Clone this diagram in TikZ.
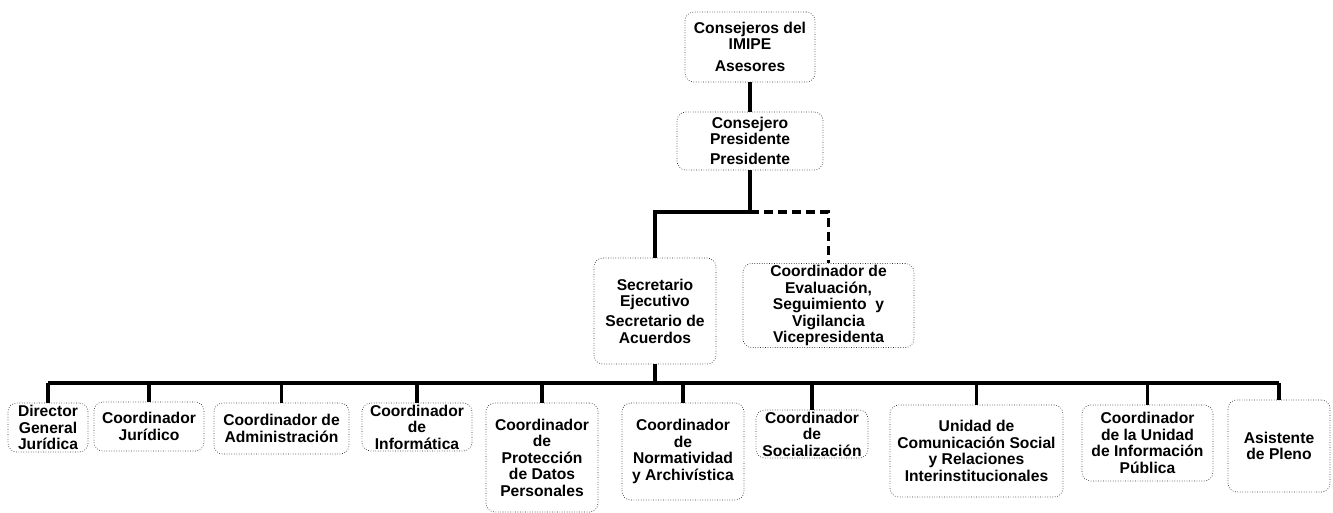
\documentclass[tikz,border=0pt]{standalone}
\usepackage{fontspec}
\setmainfont{Liberation Sans}
\usepackage{tikz}
\usetikzlibrary{positioning}

\begin{document}
\begin{tikzpicture}[box/.style={draw=black!80,densely dotted,thin,rounded corners=5pt,align=center,inner sep=1pt,font=\fontsize{8.9}{9.4}\selectfont\bfseries},
  conn/.style={draw=black,line width=2.1pt}]
\useasboundingbox (0,0) rectangle (26.66,-10.24);
\node[box,minimum width=2.6cm,minimum height=1.4cm] (cons) at (15.0,-0.94) {Consejeros del\\IMIPE\\[3pt]Asesores};
\node[box,minimum width=2.92cm,minimum height=1.16cm] (pres) at (15.0,-2.82) {Consejero\\Presidente\\[2pt]Presidente};
\node[box,minimum width=2.44cm,minimum height=2.12cm] (secr) at (13.1,-6.22) {Secretario\\Ejecutivo\\[2pt]Secretario de\\Acuerdos};
\node[box,minimum width=3.42cm,minimum height=1.62cm] (eval) at (16.57,-6.11) {Coordinador de\\Evaluación,\\Seguimiento \ y\\Vigilancia\\Vicepresidenta};

\node[box,inner ysep=0pt,minimum width=1.6cm,minimum height=0.98cm] (dgj) at (0.96,-8.55) {Director\\General\\Jurídica};
\node[box,minimum width=2.2cm,minimum height=0.98cm] (cj) at (2.98,-8.53) {Coordinador\\Jurídico};
\node[box,minimum width=2.7cm,minimum height=1.02cm] (cadm) at (5.63,-8.57) {Coordinador de\\Administración};
\node[box,inner ysep=0pt,minimum width=2.2cm,minimum height=0.96cm] (cinf) at (8.34,-8.54) {Coordinador\\de\\Informática};
\node[box,minimum width=2.24cm,minimum height=2.18cm] (cpdp) at (10.84,-9.15) {Coordinador\\de\\Protección\\de Datos\\Personales};
\node[box,minimum width=2.44cm,minimum height=1.94cm] (cna) at (13.66,-9.03) {Coordinador\\de\\Normatividad\\y Archivística};
\node[box,inner ysep=0pt,minimum width=2.24cm,minimum height=0.96cm] (csoc) at (16.24,-8.68) {Coordinador\\de\\Socialización};
\node[box,minimum width=3.46cm,minimum height=1.84cm] (ucs) at (19.53,-9.02) {Unidad de\\Comunicación Social\\y Relaciones\\Interinstitucionales};
\node[box,minimum width=2.62cm,minimum height=1.52cm] (cuip) at (22.95,-8.86) {Coordinador\\de la Unidad\\de Información\\Pública};
\node[box,minimum width=2.04cm,minimum height=1.84cm] (asp) at (25.58,-8.92) {Asistente\\de Pleno};

\coordinate (split) at (15.0,-4.24);
\coordinate (bus) at (13.1,-7.66);

\draw[conn] (cons) -- (pres);
\draw[conn] (pres.south) -- (split) -| (secr.north);
\draw[conn,dash pattern=on 5pt off 3pt] (split) -| (eval.north);
\draw[conn] (secr.south) -- (bus);
\draw[conn] (dgj.north |- bus) -- (asp.north |- bus);
\draw[conn] (dgj.north) -- (dgj.north |- bus);
\draw[conn] (cj.north) -- (cj.north |- bus);
\draw[conn] (cadm.north) -- (cadm.north |- bus);
\draw[conn] (cinf.north) -- (cinf.north |- bus);
\draw[conn] (cpdp.north) -- (cpdp.north |- bus);
\draw[conn] (cna.north) -- (cna.north |- bus);
\draw[conn] (csoc.north) -- (csoc.north |- bus);
\draw[conn] (ucs.north) -- (ucs.north |- bus);
\draw[conn] (cuip.north) -- (cuip.north |- bus);
\draw[conn] (asp.north) -- (asp.north |- bus);
\end{tikzpicture}
\end{document}
